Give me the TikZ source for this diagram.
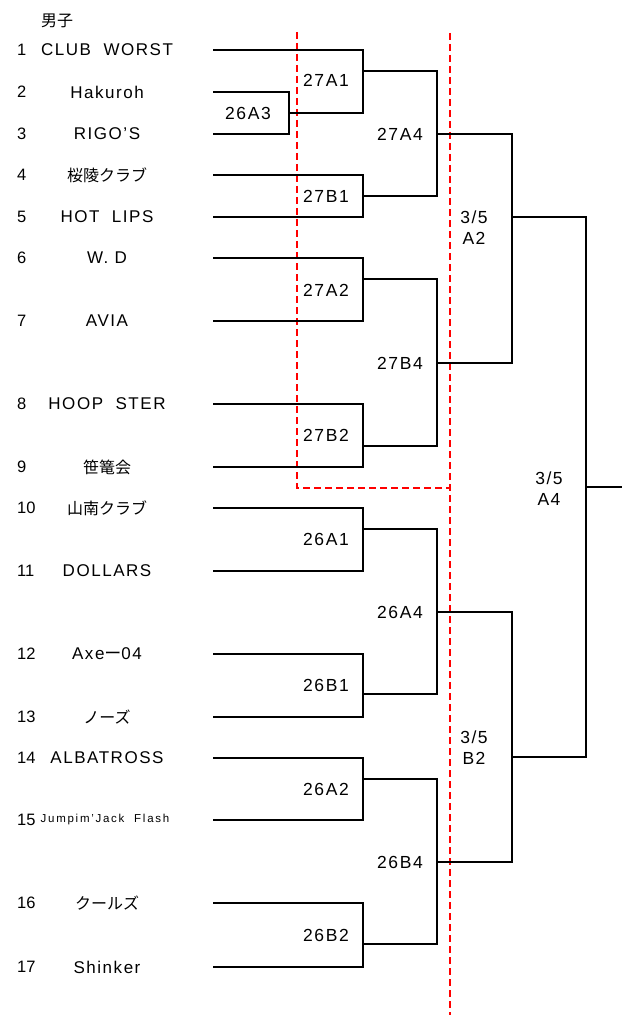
\documentclass[tikz,border=0pt]{standalone}
\usepackage{fontspec}
\setmainfont{Liberation Sans}
\newfontfamily\jp{Noto Sans CJK JP}
\newcommand\tfont{\fontsize{17}{17}\selectfont\addfontfeature{LetterSpace=9}}
\newcommand\sfontx{\fontsize{11.5}{11.5}\selectfont\addfontfeature{LetterSpace=15}}
\newcommand\lfont{\fontsize{17.5}{17.5}\selectfont\addfontfeature{LetterSpace=9}}
\begin{document}
\begin{tikzpicture}[x=1pt,y=-1pt,
  br/.style={line width=1.4pt, line cap=rect},
  rd/.style={draw=red, line width=1.4pt, dash pattern=on 7pt off 4pt},
  tname/.style={font=\tfont, inner sep=0pt, anchor=center},
  jname/.style={font={\fontsize{16}{16}\selectfont\jp}, inner sep=0pt, anchor=center},
  num/.style={font={\fontsize{16.5}{16.5}\selectfont}, inner sep=0pt, anchor=west},
  lbl/.style={font=\lfont, inner sep=0pt, anchor=center}]
\useasboundingbox (0,0) rectangle (621,1016);

% red dashed separators
\coordinate (rA) at (297,32);
\coordinate (rB) at (297,488);
\coordinate (rC) at (450,488);
\coordinate (rD) at (450,33);
\coordinate (rE) at (450,1015);
\draw[rd] (rA) -- (rB) -- (rC);
\draw[rd] (rD) -- (rE);

% title
\node[jname] (title) at (57,21) {男子};

% team line starts
\foreach \i/\y in {1/50,2/92,3/134,4/175,5/217,6/258,7/321,8/404,9/467,10/508,11/571,12/654,13/717,14/758,15/820,16/903,17/967}{
  \coordinate (s\i) at (214,\y);
  \node[num] (n\i) at (17,\y) {\i};
}

% team names
\node[tname] (t1) at (107,50) {CLUB\ \ WORST};
\node[tname] (t2) at (107,92) {Hakuroh};
\node[tname] (t3) at (107,134) {RIGO’S};
\node[jname] (t4) at (107,175) {桜陵クラブ};
\node[tname] (t5) at (107,217) {HOT\ \ LIPS};
\node[tname] (t6) at (107,258) {W.\ D};
\node[tname] (t7) at (107,321) {AVIA};
\node[tname] (t8) at (107,404) {HOOP\ \ STER};
\node[jname] (t9) at (107,467) {笹篭会};
\node[jname] (t10) at (107,508) {山南クラブ};
\node[tname] (t11) at (107,571) {DOLLARS};
\node[tname] (t12) at (107,654) {Axe{\jp ー}04};
\node[jname] (t13) at (107,717) {ノーズ};
\node[tname] (t14) at (107,758) {ALBATROSS};
\node[tname, font=\sfontx] (t15) at (105,820) {Jumpim’Jack\ \ Flash};
\node[jname] (t16) at (107,903) {クールズ};
\node[tname] (t17) at (107,967) {Shinker};

% match points
\coordinate (m26A3) at (289,113);
\coordinate (m27A1) at (363,71);
\coordinate (m27B1) at (363,196);
\coordinate (m27A2) at (363,279);
\coordinate (m27B2) at (363,446);
\coordinate (m26A1) at (363,529);
\coordinate (m26B1) at (363,694);
\coordinate (m26A2) at (363,779);
\coordinate (m26B2) at (363,944);
\coordinate (m27A4) at (437,134);
\coordinate (m27B4) at (437,363);
\coordinate (m26A4) at (437,612);
\coordinate (m26B4) at (437,862);
\coordinate (mA2) at (512,217);
\coordinate (mB2) at (512,757);
\coordinate (mA4) at (586,487);
\coordinate (fin) at (621,487);

% bracket lines
\draw[br] (s2) -| (m26A3) |- (s3);
\draw[br] (s1) -| (m27A1) |- (m26A3);
\draw[br] (s4) -| (m27B1) |- (s5);
\draw[br] (s6) -| (m27A2) |- (s7);
\draw[br] (s8) -| (m27B2) |- (s9);
\draw[br] (s10) -| (m26A1) |- (s11);
\draw[br] (s12) -| (m26B1) |- (s13);
\draw[br] (s14) -| (m26A2) |- (s15);
\draw[br] (s16) -| (m26B2) |- (s17);
\draw[br] (m27A1) -| (m27A4) |- (m27B1);
\draw[br] (m27A2) -| (m27B4) |- (m27B2);
\draw[br] (m26A1) -| (m26A4) |- (m26B1);
\draw[br] (m26A2) -| (m26B4) |- (m26B2);
\draw[br] (m27A4) -| (mA2) |- (m27B4);
\draw[br] (m26A4) -| (mB2) |- (m26B4);
\draw[br] (mA2) -| (mA4) |- (mB2);
\draw[br] (mA4) -- (fin);

% match labels
\node[lbl] (l26A3) at (248,113) {26A3};
\node[lbl] (l27A1) at (326,80) {27A1};
\node[lbl] (l27B1) at (326,196) {27B1};
\node[lbl] (l27A2) at (326,290) {27A2};
\node[lbl] (l27B2) at (326,435) {27B2};
\node[lbl] (l26A1) at (326,539) {26A1};
\node[lbl] (l26B1) at (326,685) {26B1};
\node[lbl] (l26A2) at (326,789) {26A2};
\node[lbl] (l26B2) at (326,935) {26B2};
\node[lbl] (l27A4) at (400,134) {27A4};
\node[lbl] (l27B4) at (400,363) {27B4};
\node[lbl] (l26A4) at (400,612) {26A4};
\node[lbl] (l26B4) at (400,862) {26B4};
\node[lbl] (lA2a) at (474,217) {3/5};
\node[lbl] (lA2b) at (474,238) {A2};
\node[lbl] (lB2a) at (474,737) {3/5};
\node[lbl] (lB2b) at (474,758) {B2};
\node[lbl] (lA4a) at (549,478) {3/5};
\node[lbl] (lA4b) at (549,499) {A4};
\end{tikzpicture}
\end{document}
